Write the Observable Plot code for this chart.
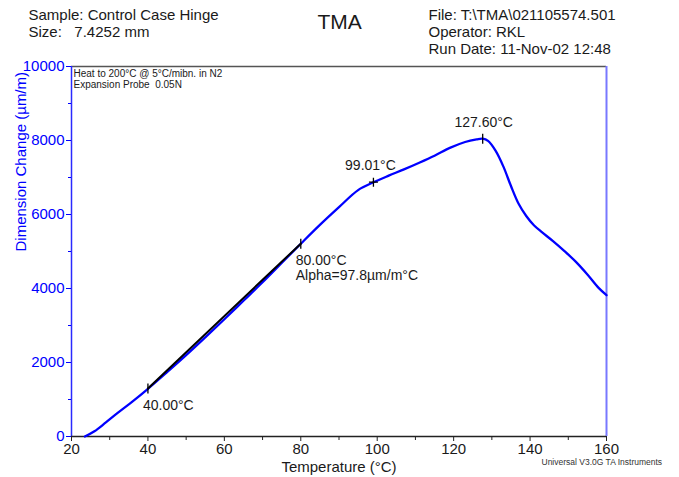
<!DOCTYPE html>
<html>
<head>
<meta charset="utf-8">
<script src="https://cdn.jsdelivr.net/npm/d3@7"></script>
<script src="https://cdn.jsdelivr.net/npm/@observablehq/plot@0.6"></script>
<style>
  html, body { margin: 0; padding: 0; background: #fff; }
  #chart svg text { white-space: pre; }
</style>
</head>
<body>
<div id="chart"></div>
<script>
// ---- data ----
const tempC = [23.5, 26, 29, 32, 36, 40, 45, 50, 55, 60, 65, 70, 75, 80, 85, 90, 95, 99, 103, 107, 111, 115, 119, 123, 126, 127.6, 129, 131, 133, 135, 137, 139, 141, 143, 146, 149, 152, 155, 158, 160];
const dimChange = [0, 140, 380, 630, 950, 1290, 1740, 2200, 2680, 3170, 3670, 4170, 4690, 5210, 5720, 6200, 6660, 6870, 7050, 7220, 7400, 7590, 7800, 7960, 8030, 8050, 7990, 7720, 7300, 6770, 6290, 5960, 5710, 5530, 5280, 5010, 4720, 4380, 4010, 3820];

const fitTemp = [40, 80];
const fitDim = [1300, 5212];

const markTemp = [40, 80, 99.01, 127.6];
const markDim = [1300, 5212, 6874, 8050];
const markShape = ["|", "|", "+", "|"];
const markLabel = ["40.00°C", "80.00°C", "99.01°C", "127.60°C"];
const alphaLabel = "Alpha=97.8µm/m°C";

const xTicks = [20, 40, 60, 80, 100, 120, 140, 160];
const xMinor = [30, 50, 70, 90, 110, 130, 150];
const yTicks = [0, 2000, 4000, 6000, 8000, 10000];
const yMinor = [1000, 3000, 5000, 7000, 9000];

const headerLeft = ["Sample: Control Case Hinge", "Size:   7.4252 mm"];
const headerRight = ["File: T:\\TMA\\021105574.501", "Operator: RKL", "Run Date: 11-Nov-02 12:48"];
const titleText = "TMA";
const methodLines = ["Heat to 200°C @ 5°C/mibn. in N2", "Expansion Probe  0.05N"];
const footer = "Universal V3.0G TA Instruments";
const xLabel = "Temperature (°C)";
const yLabel = "Dimension Change (µm/m)";

// ---- drawing ----
const curve = tempC.map((t, i) => ({t, v: dimChange[i]}));
const fit = fitTemp.map((t, i) => ({t, v: fitDim[i]}));
const marks = markTemp.map((t, i) => ({t, v: markDim[i], s: markShape[i], label: markLabel[i]}));

const vbar = {draw(ctx, size) { const r = Math.sqrt(size / Math.PI); ctx.moveTo(0, -r); ctx.lineTo(0, r); }};
const plus = {draw(ctx, size) { const r = Math.sqrt(size / Math.PI); ctx.moveTo(-r, 0); ctx.lineTo(r, 0); ctx.moveTo(0, -r); ctx.lineTo(0, r); }};

const ink = "#1a1a1a";
const blue = "#0000ff";

const labelText = (i, dx, dy, anchor) => Plot.text([marks[i]], {
  x: "t", y: "v", text: "label", dx, dy, textAnchor: anchor, lineAnchor: "middle",
  fontSize: 14, fill: ink
});

// header line anchored to the frame's top-left corner, baseline placement
const headerText = (str, dx, dy, size) => Plot.text([str], {
  frameAnchor: "top-left", text: d => d, dx, dy, textAnchor: "start", lineAnchor: "bottom",
  fontSize: size, fill: ink
});

const chart = Plot.plot({
  width: 679,
  height: 477,
  marginLeft: 71,
  marginRight: 73,
  marginTop: 66,
  marginBottom: 41,
  style: {fontFamily: "'Liberation Sans', Arial, sans-serif", fontSize: "15px", background: "#fff", color: ink, overflow: "visible"},
  x: {domain: [20, 160]},
  y: {domain: [0, 10000]},
  marks: [
    // frame lines
    Plot.ruleY([10000], {stroke: "#555", strokeWidth: 1.5}),
    Plot.ruleX([160], {stroke: "#7878ff", strokeWidth: 2}),
    Plot.ruleX([20], {stroke: "#2a2aff", strokeWidth: 1.5}),
    Plot.ruleY([0], {stroke: "#222", strokeWidth: 1.5}),
    // axes
    Plot.axisX({ticks: xTicks, tickSize: 5, tickPadding: 2, fontSize: 15, label: null, stroke: "#222", fill: ink, tickFormat: d => String(d)}),
    Plot.axisX({ticks: xMinor, tickSize: 4, tickFormat: () => "", label: null, stroke: "#222"}),
    Plot.axisY({ticks: yTicks, tickSize: 5, tickPadding: 2, fontSize: 15, label: null, stroke: blue, fill: blue, tickFormat: d => String(d)}),
    Plot.axisY({ticks: yMinor, tickSize: 3, tickFormat: () => "", label: null, stroke: blue}),
    // axis titles
    Plot.text([xLabel], {frameAnchor: "bottom", dy: 35, lineAnchor: "bottom", fontSize: 15, fill: ink}),
    Plot.text([yLabel], {frameAnchor: "left", dx: -50, rotate: -90, lineAnchor: "middle", fontSize: 15, fill: blue}),
    // data
    Plot.line(curve, {x: "t", y: "v", curve: "catmull-rom", stroke: blue, strokeWidth: 2.3}),
    Plot.line(fit, {x: "t", y: "v", stroke: "#000", strokeWidth: 2}),
    Plot.dot(marks.filter(d => d.s === "|"), {x: "t", y: "v", symbol: vbar, r: 5, stroke: "#000", strokeWidth: 1.3, fill: "none"}),
    Plot.dot(marks.filter(d => d.s === "+"), {x: "t", y: "v", symbol: plus, r: 4.5, stroke: "#000", strokeWidth: 1.3, fill: "none"}),
    labelText(0, -5, 17, "start"),
    labelText(1, -5, 17, "start"),
    Plot.text([marks[1]], {x: "t", y: "v", text: () => alphaLabel, dx: -5, dy: 32, textAnchor: "start", lineAnchor: "middle", fontSize: 14, fill: ink}),
    labelText(2, -3, -17, "middle"),
    labelText(3, 1, -16, "middle"),
    // header
    headerText(headerLeft[0], -43, -47, 15),
    headerText(headerLeft[1], -43, -30, 15),
    headerText(titleText, 246, -38, 21),
    headerText(headerRight[0], 357, -47, 15),
    headerText(headerRight[1], 357, -30, 15),
    headerText(headerRight[2], 357, -13, 15),
    Plot.text([methodLines.join("\n")], {frameAnchor: "top-left", dx: 2, dy: 3, textAnchor: "start", lineAnchor: "top", fontSize: 10, lineHeight: 1.1, fill: ink}),
    Plot.text([footer], {frameAnchor: "bottom-left", dx: 470, dy: 28, textAnchor: "start", lineAnchor: "bottom", fontSize: 8.5, fill: "#333"})
  ]
});

document.getElementById("chart").append(chart);
</script>
</body>
</html>
